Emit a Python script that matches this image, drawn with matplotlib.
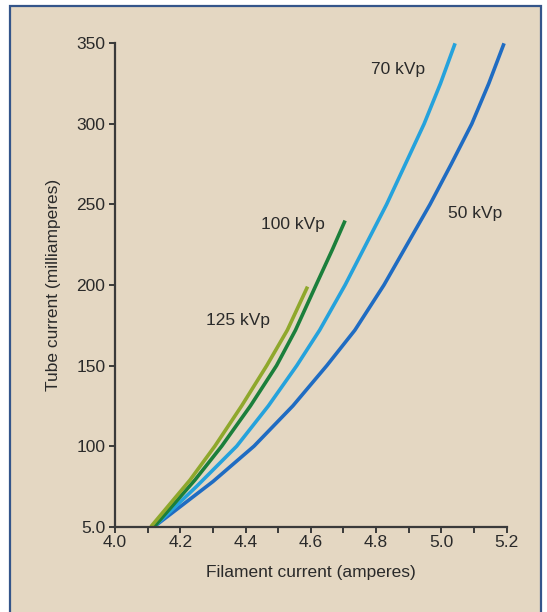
import matplotlib
matplotlib.use("Agg")
import matplotlib.pyplot as plt
from matplotlib.patches import Rectangle

# curves: filament current (A) vs tube current (mA)
x_50 = [4.12, 4.30, 4.426, 4.545, 4.649, 4.735, 4.824, 4.965, 5.03, 5.093, 5.145, 5.192]
y_50 = [50, 78, 100, 125, 150, 172, 200, 250, 275, 300, 325, 350]

x_70 = [4.12, 4.25, 4.373, 4.47, 4.557, 4.627, 4.705, 4.832, 4.947, 4.997, 5.042]
y_70 = [50, 75, 100, 125, 150, 172, 200, 250, 300, 325, 350]

x_100 = [4.12, 4.245, 4.327, 4.415, 4.495, 4.553, 4.616, 4.666, 4.705]
y_100 = [50, 79, 100, 125, 150, 172, 200, 222, 240]

x_125 = [4.11, 4.23, 4.306, 4.388, 4.465, 4.528, 4.59]
y_125 = [50, 79, 100, 125, 150, 172, 199]

series = [
    (x_50, y_50, "#1f6cc2", "50 kVp", (5.103, 244.5)),
    (x_70, y_70, "#25a2dc", "70 kVp", (4.868, 333.6)),
    (x_100, y_100, "#1b7f3b", "100 kVp", (4.544, 237.3)),
    (x_125, y_125, "#8fa82c", "125 kVp", (4.378, 177.9)),
]

y_ticks = [50, 100, 150, 200, 250, 300, 350]
y_tick_labels = ["5.0", "100", "150", "200", "250", "300", "350"]
x_ticks = [4.0, 4.2, 4.4, 4.6, 4.8, 5.0, 5.2]
x_minor = [4.1, 4.3, 4.5, 4.7, 4.9, 5.1]

plt.rcParams["font.family"] = ["Liberation Sans", "DejaVu Sans"]
txt = "#2a2a2a"
bg = "#e4d7c2"
fs = 12.5

fig = plt.figure(figsize=(5.47, 6.12), dpi=100)
fig.patch.set_facecolor("white")
frame = Rectangle((10 / 547, -0.02), 531 / 547, 1 - 6 / 612 + 0.02,
                  transform=fig.transFigure, facecolor=bg,
                  edgecolor="#34558a", lw=1.6, zorder=-10)
fig.add_artist(frame)

ax = fig.add_axes([0.2102, 0.1394, 0.7161, 0.7898])
ax.set_facecolor("none")
ax.set_zorder(1)

for xs, ys, col, lab, pos in series:
    ax.plot(xs, ys, color=col, lw=2.6, solid_capstyle="butt",
            solid_joinstyle="round", clip_on=False)
    ax.text(pos[0], pos[1], lab, ha="center", va="center", fontsize=fs,
            color=txt)

ax.set_xlim(4.0, 5.2)
ax.set_ylim(50, 350)
ax.set_xticks(x_ticks)
ax.set_xticklabels([f"{v:.1f}" for v in x_ticks])
ax.set_xticks(x_minor, minor=True)
ax.set_yticks(y_ticks)
ax.set_yticklabels(y_tick_labels)

for s in ["top", "right"]:
    ax.spines[s].set_visible(False)
for s in ["left", "bottom"]:
    ax.spines[s].set_color("#3a3a3a")
    ax.spines[s].set_linewidth(1.6)

ax.tick_params(axis="both", which="both", colors="#3a3a3a", labelcolor=txt,
               labelsize=fs, width=1.4)
ax.tick_params(axis="x", which="major", length=4, pad=2)
ax.tick_params(axis="x", which="minor", length=4)
ax.tick_params(axis="y", length=4, pad=3)

ax.set_xlabel("Filament current (amperes)", fontsize=fs, color=txt, labelpad=11)
ax.set_ylabel("Tube current (milliamperes)", fontsize=fs, color=txt, labelpad=11)

fig.savefig("out.png", dpi=100, facecolor=fig.get_facecolor())
